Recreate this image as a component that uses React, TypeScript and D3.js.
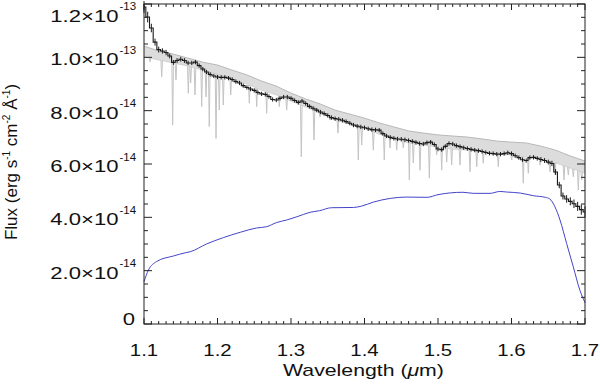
import React from 'react';
import * as d3 from 'd3';

// all fluxes in units of 1e-14 erg s-1 cm-2 A-1

// binned observed spectrum (black, with error bars), 0.005 um bins from 1.100
const obsFlux = [
  11.89, 11.51, 11.1, 10.57, 10.29, 10.24, 10.18, 10.05, 9.81, 9.88,
  9.93, 9.88, 9.79, 9.79, 9.82, 9.69, 9.56, 9.45, 9.36, 9.3,
  9.26, 9.25, 9.25, 9.22, 9.17, 9.09, 9.04, 8.94, 8.87, 8.81,
  8.76, 8.68, 8.63, 8.61, 8.53, 8.42, 8.4, 8.46, 8.51, 8.51,
  8.46, 8.38, 8.31, 8.36, 8.27, 8.16, 8.09, 8.02, 7.95, 7.89,
  7.82, 7.74, 7.7, 7.68, 7.64, 7.59, 7.53, 7.46, 7.42, 7.39,
  7.36, 7.32, 7.29, 7.28, 7.27, 7.14, 7.05, 7.0, 6.96, 6.94,
  6.93, 6.91, 6.88, 6.85, 6.81, 6.77, 6.75, 6.8, 6.82, 6.73,
  6.56, 6.54, 6.66, 6.77, 6.75, 6.69, 6.65, 6.61, 6.58, 6.55,
  6.52, 6.5, 6.47, 6.43, 6.4, 6.39, 6.37, 6.37, 6.39, 6.42,
  6.39, 6.31, 6.24, 6.16, 6.13, 6.24, 6.25, 6.21, 6.17, 6.13,
  6.07, 6.02, 5.7, 5.21, 4.8, 4.69, 4.6, 4.51, 4.41, 4.29,
  4.2,
];
const obsErr = [
  0.22, 0.2, 0.16, 0.13, 0.11, 0.1, 0.1, 0.09, 0.09, 0.09,
  0.09, 0.09, 0.08, 0.08, 0.08, 0.08, 0.08, 0.08, 0.08, 0.08,
  0.08, 0.08, 0.08, 0.08, 0.08, 0.08, 0.08, 0.08, 0.08, 0.08,
  0.08, 0.08, 0.08, 0.08, 0.08, 0.08, 0.08, 0.08, 0.08, 0.08,
  0.08, 0.08, 0.08, 0.08, 0.08, 0.08, 0.08, 0.08, 0.08, 0.08,
  0.08, 0.08, 0.08, 0.08, 0.08, 0.08, 0.08, 0.08, 0.08, 0.08,
  0.08, 0.08, 0.08, 0.08, 0.08, 0.08, 0.08, 0.08, 0.08, 0.08,
  0.08, 0.08, 0.08, 0.08, 0.08, 0.08, 0.08, 0.08, 0.08, 0.08,
  0.08, 0.08, 0.08, 0.08, 0.08, 0.08, 0.08, 0.08, 0.08, 0.08,
  0.08, 0.08, 0.08, 0.08, 0.08, 0.08, 0.08, 0.08, 0.08, 0.08,
  0.08, 0.08, 0.08, 0.08, 0.08, 0.08, 0.08, 0.08, 0.09, 0.09,
  0.09, 0.1, 0.11, 0.12, 0.13, 0.14, 0.15, 0.16, 0.17, 0.19,
  0.21,
];
const obsWave = obsFlux.map((_, i) => 1.1 + i * 0.005);

// model spectrum (gray): envelope of the dense line forest, every 0.02 um
const modelWave = [
  1.1, 1.12, 1.14, 1.16, 1.18, 1.2, 1.22, 1.24, 1.26, 1.28, 1.3,
  1.32, 1.34, 1.36, 1.38, 1.4, 1.42, 1.44, 1.46, 1.48, 1.5,
  1.52, 1.54, 1.56, 1.58, 1.6, 1.62, 1.64, 1.66, 1.68, 1.7,
];
const modelTop = [
  10.42, 10.24, 10.12, 9.97, 9.82, 9.71, 9.52, 9.34, 9.11, 8.92, 8.66,
  8.44, 8.25, 8.02, 7.87, 7.72, 7.54, 7.39, 7.24, 7.16, 7.09,
  7.05, 7.01, 6.94, 6.86, 6.82, 6.79, 6.67, 6.52, 6.3, 6.11,
];
const modelBottom = [
  10.01, 9.9, 9.79, 9.67, 9.52, 9.37, 9.19, 9.0, 8.77, 8.59, 8.36,
  8.14, 7.91, 7.65, 7.5, 7.35, 7.12, 6.94, 6.79, 6.71, 6.64,
  6.56, 6.52, 6.45, 6.37, 6.34, 6.26, 6.19, 6.04, 5.85, 5.66,
];
// deep absorption lines of the model: wavelength and flux at line bottom
const lineWave = [
  1.1082, 1.1241, 1.139, 1.1435, 1.1603, 1.1635, 1.1694, 1.1785, 1.1844, 1.1888,
  1.198, 1.2024, 1.2079, 1.218, 1.2433, 1.2533, 1.2669, 1.2841, 1.2941, 1.314,
  1.3313, 1.3395, 1.3531, 1.3639, 1.3916, 1.3962, 1.412, 1.4269, 1.4347, 1.4438,
  1.4528, 1.461, 1.4664, 1.4755, 1.4882, 1.4982, 1.505, 1.5118, 1.5186, 1.5299,
  1.5435, 1.5527, 1.5616, 1.582, 1.6003, 1.616, 1.6229, 1.6388, 1.6524, 1.6592,
  1.6714, 1.6773, 1.6841, 1.6909, 1.6955,
];
const lineFlux = [
  9.83, 9.27, 7.46, 9.15, 8.65, 9.04, 8.59, 8.15, 8.52, 7.4,
  6.96, 8.02, 8.21, 8.59, 8.28, 8.15, 7.9, 8.15, 8.02, 6.27,
  6.9, 7.76, 7.65, 7.16, 6.15, 6.71, 6.52, 6.15, 6.6, 6.52,
  6.6, 5.4, 6.04, 5.77, 5.47, 6.34, 5.77, 6.07, 5.96, 5.96,
  5.71, 5.9, 6.03, 5.9, 6.15, 5.28, 5.65, 5.96, 5.71, 5.59,
  5.4, 5.59, 5.52, 5.02, 5.4,
];

// smooth curve (blue)
const blueWave = [
  1.1, 1.106, 1.117, 1.14, 1.156, 1.163, 1.185, 1.208, 1.231, 1.253,
  1.267, 1.28, 1.294, 1.308, 1.326, 1.339, 1.355, 1.385, 1.396, 1.412,
  1.435, 1.457, 1.485, 1.5, 1.534, 1.548, 1.571, 1.584, 1.593, 1.612,
  1.63, 1.646, 1.652, 1.659, 1.666, 1.675, 1.684, 1.693, 1.7,
];
const blueFlux = [
  1.59, 2.02, 2.34, 2.55, 2.67, 2.71, 3.0, 3.24, 3.44, 3.6,
  3.65, 3.8, 3.9, 4.02, 4.19, 4.25, 4.36, 4.37, 4.42, 4.57,
  4.71, 4.76, 4.75, 4.85, 4.94, 4.9, 4.9, 4.97, 4.95, 4.91,
  4.81, 4.75, 4.69, 4.4, 3.9, 3.02, 2.15, 1.27, 0.8,
];

const xTickLabels = ['1.1', '1.2', '1.3', '1.4', '1.5', '1.6', '1.7'];
const yTickBase = ['0', '2.0×10', '4.0×10', '6.0×10', '8.0×10', '1.0×10', '1.2×10'];
const yTickExp = ['', '-14', '-14', '-14', '-14', '-13', '-13'];

const FONT = '"Liberation Sans", Arial, Helvetica, sans-serif';

export default function App() {
  const width = 600;
  const height = 388;
  const x = d3.scaleLinear().domain([1.1, 1.7]).range([144, 585]);
  const y = d3.scaleLinear().domain([0, 12]).range([324, 4]);

  const xMajor = x.ticks(6);
  const xMinor = x.ticks(60);
  const yMajor = y.ticks(6);
  const yMinor = y.ticks(24);

  const band = d3
    .area<number>()
    .x((_, i) => x(modelWave[i]))
    .y0((_, i) => y(modelBottom[i]))
    .y1((d) => y(d));
  const envLine = d3
    .line<number>()
    .x((_, i) => x(modelWave[i]))
    .y((d) => y(d));
  const bandBottomAt = d3.scaleLinear().domain(modelWave).range(modelBottom);

  const obsLine = d3
    .line<number>()
    .x((_, i) => x(obsWave[i]))
    .y((d) => y(d))
    .curve(d3.curveStep);

  const blueLine = d3
    .line<number>()
    .x((_, i) => x(blueWave[i]))
    .y((d) => y(d))
    .curve(d3.curveMonotoneX);

  const axisColor = '#222';

  return (
    <svg
      width={width}
      height={height}
      style={{ position: 'absolute', left: 0, top: 0, background: '#fff' }}
      fontFamily={FONT}
    >
      <rect width={width} height={height} fill="#fff" />

      {/* model spectrum */}
      <path d={band(modelTop) || ''} fill="#dcdcdc" stroke="none" />
      <path d={envLine(modelTop) || ''} fill="none" stroke="#b8b8b8" strokeWidth={1} />
      <path d={envLine(modelBottom) || ''} fill="none" stroke="#cdcdcd" strokeWidth={0.8} />
      {lineWave.map((w, i) => {
        const xb = x(w);
        const yb = y(bandBottomAt(w));
        return (
          <path
            key={'ln' + i}
            d={`M${xb - 0.8},${yb}L${xb},${y(lineFlux[i])}L${xb + 0.8},${yb}`}
            fill="none"
            stroke="#c4c4c4"
            strokeWidth={1}
          />
        );
      })}

      {/* blue curve */}
      <path d={blueLine(blueFlux) || ''} fill="none" stroke="#4444c8" strokeWidth={1} />

      {/* binned spectrum with error bars */}
      <path d={obsLine(obsFlux) || ''} fill="none" stroke="#1a1a1a" strokeWidth={1.1} />
      {obsFlux.map((f, i) => (
        <line
          key={'e' + i}
          x1={x(obsWave[i])}
          x2={x(obsWave[i])}
          y1={y(f - obsErr[i])}
          y2={y(f + obsErr[i])}
          stroke="#1a1a1a"
          strokeWidth={1}
        />
      ))}

      {/* frame */}
      <rect
        x={x(1.1)}
        y={y(12)}
        width={x(1.7) - x(1.1)}
        height={y(0) - y(12)}
        fill="none"
        stroke={axisColor}
        strokeWidth={1}
      />

      {/* x ticks, bottom and top */}
      {xMinor.map((t, i) => {
        const major = xMajor.some((m) => Math.abs(m - t) < 1e-6);
        const len = major ? 6 : 3;
        return (
          <g key={'xt' + i} stroke={axisColor} strokeWidth={1}>
            <line x1={x(t)} x2={x(t)} y1={y(0)} y2={y(0) - len} />
            <line x1={x(t)} x2={x(t)} y1={y(12)} y2={y(12) + len} />
          </g>
        );
      })}
      {/* y ticks, left and right */}
      {yMinor.map((t, i) => {
        const major = yMajor.some((m) => Math.abs(m - t) < 1e-6);
        const len = major ? 8 : 4;
        return (
          <g key={'yt' + i} stroke={axisColor} strokeWidth={1}>
            <line x1={x(1.1)} x2={x(1.1) + len} y1={y(t)} y2={y(t)} />
            <line x1={x(1.7)} x2={x(1.7) - len} y1={y(t)} y2={y(t)} />
          </g>
        );
      })}

      {/* x tick labels */}
      {xMajor.map((t, i) => (
        <text
          key={'xl' + i}
          transform={`translate(${x(t)},356) scale(1.2,1)`}
          textAnchor="middle"
          fontSize={17}
          fill="#111"
        >
          {xTickLabels[i]}
        </text>
      ))}

      {/* y tick labels */}
      {yMajor.map((t, i) => {
        const exp = yTickExp[i];
        const base = exp ? Math.max(y(t) + 8, 21.5) : y(t) + 1;
        return (
          <g key={'yl' + i} fill="#111">
            <text
              transform={`translate(${exp ? 118.5 : 135},${base}) scale(1.3,1)`}
              textAnchor="end"
              fontSize={17}
            >
              {yTickBase[i]}
            </text>
            {exp && (
              <text x={119.5} y={base - 11.5} fontSize={11.5}>
                {exp}
              </text>
            )}
          </g>
        );
      })}

      {/* axis titles */}
      <text
        transform="translate(363.5,376) scale(1.25,1)"
        textAnchor="middle"
        fontSize={17}
        fill="#111"
      >
        Wavelength (<tspan fontStyle="italic">μ</tspan>m)
      </text>
      <text
        transform="translate(17.3,162) rotate(-90)"
        textAnchor="middle"
        fontSize={17}
        fill="#111"
      >
        Flux (erg s
        <tspan dy={-7} fontSize={10}>-1</tspan>
        <tspan dy={7}> cm</tspan>
        <tspan dy={-7} fontSize={10}>-2</tspan>
        <tspan dy={7}> Å</tspan>
        <tspan dy={-7} fontSize={10}>-1</tspan>
        <tspan dy={7}>)</tspan>
      </text>
    </svg>
  );
}
